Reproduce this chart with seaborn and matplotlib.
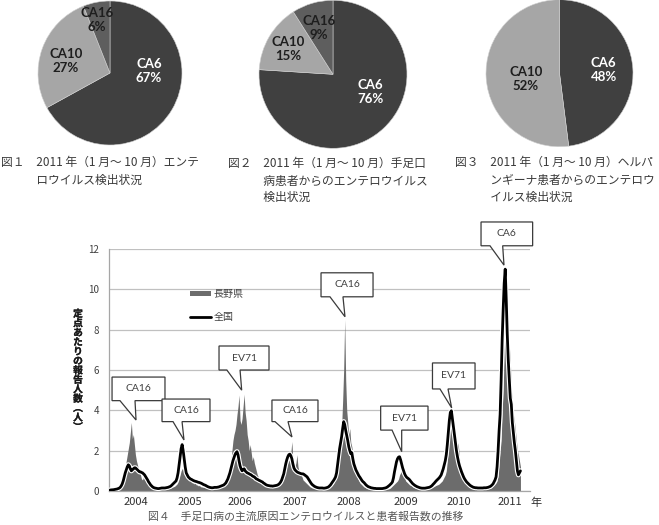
import numpy as np
import matplotlib
matplotlib.use("Agg")
import matplotlib.pyplot as plt
import matplotlib.patheffects as pe
from matplotlib.patches import Polygon, Patch
from matplotlib.lines import Line2D
import seaborn as sns

# ---- pie data (2011, Jan-Oct) ----
pie_labels = ["CA6", "CA10", "CA16"]
fig1_pct = [67, 27, 6]      # all enterovirus detections
fig2_pct = [76, 15, 9]      # hand-foot-mouth patients
fig3_labels = ["CA6", "CA10"]
fig3_pct = [48, 52]         # herpangina patients
pie_colors = ["#404040", "#a6a6a6", "#5e5e5e"]

# ---- weekly reports per sentinel, one list per season ----
years = ["2004", "2005", "2006", "2007", "2008", "2009", "2010", "2011"]

national_2004 = [0.05, 0.05, 0.06, 0.06, 0.07, 0.08, 0.09, 0.10, 0.12, 0.14,
                 0.18, 0.25, 0.35, 0.50, 0.70, 0.90, 1.05, 1.20, 1.30, 1.25,
                 1.10, 1.00, 1.05, 1.10, 1.15, 1.15, 1.10, 1.05, 1.00, 0.95,
                 0.95, 0.92, 0.90, 0.85, 0.80, 0.72, 0.65, 0.55, 0.45, 0.38,
                 0.30, 0.25, 0.20, 0.17, 0.15, 0.14, 0.13, 0.12, 0.12, 0.13, 0.14, 0.15]
national_2005 = [0.15, 0.15, 0.15, 0.16, 0.17, 0.18, 0.20, 0.22, 0.25, 0.30,
                 0.35, 0.40, 0.45, 0.50, 0.65, 0.90, 1.30, 1.70, 2.10, 2.30,
                 2.00, 1.60, 1.20, 0.90, 0.80, 0.70, 0.65, 0.60, 0.58, 0.55,
                 0.52, 0.50, 0.48, 0.47, 0.45, 0.43, 0.42, 0.40, 0.38, 0.35,
                 0.32, 0.30, 0.28, 0.25, 0.22, 0.20, 0.18, 0.17, 0.16, 0.16, 0.17, 0.18]
national_2006 = [0.18, 0.18, 0.19, 0.20, 0.22, 0.24, 0.26, 0.28, 0.30, 0.35,
                 0.40, 0.50, 0.60, 0.75, 0.90, 1.10, 1.30, 1.50, 1.65, 1.80, 1.90, 1.95,
                 1.80, 1.50, 1.25, 1.10, 1.00, 1.05, 1.10, 1.00, 0.95, 0.90,
                 0.88, 0.85, 0.82, 0.80, 0.75, 0.72, 0.70, 0.65, 0.60, 0.58,
                 0.55, 0.52, 0.50, 0.47, 0.45, 0.40, 0.37, 0.33, 0.30, 0.28]
national_2007 = [0.27, 0.26, 0.25, 0.25, 0.24, 0.25, 0.26, 0.27, 0.28, 0.30,
                 0.33, 0.38, 0.45, 0.55, 0.70, 0.85, 1.10, 1.35, 1.55, 1.70, 1.80,
                 1.83, 1.75, 1.60, 1.35, 1.15, 1.05, 1.00, 0.95, 0.92, 0.90, 0.88, 0.86, 0.85,
                 0.85, 0.82, 0.78, 0.74, 0.70, 0.62, 0.55, 0.45, 0.38, 0.32, 0.28,
                 0.24, 0.21, 0.19, 0.17, 0.16, 0.15, 0.15]
national_2008 = [0.15, 0.15, 0.14, 0.14, 0.15, 0.16, 0.18, 0.20, 0.25, 0.30, 0.38,
                 0.45, 0.52, 0.60, 0.70, 0.90, 1.30, 1.70, 2.10, 2.40, 2.70, 3.10,
                 3.44, 3.30, 3.00, 2.75, 2.50, 2.20, 2.00, 1.85, 1.90, 1.60,
                 1.35, 1.20, 1.05, 0.95, 0.85, 0.75, 0.68, 0.60, 0.52, 0.46,
                 0.42, 0.36, 0.30, 0.26, 0.22, 0.20, 0.18, 0.16, 0.15, 0.14]
national_2009 = [0.13, 0.13, 0.12, 0.12, 0.12, 0.12, 0.12, 0.12, 0.12, 0.13,
                 0.14, 0.15, 0.17, 0.20, 0.24, 0.28, 0.33, 0.38, 0.45, 0.65,
                 0.95, 1.20, 1.45, 1.60, 1.68, 1.70, 1.55, 1.35, 1.15, 1.00,
                 0.85, 0.75, 0.68, 0.64, 0.60, 0.55, 0.48, 0.42, 0.36, 0.32,
                 0.28, 0.25, 0.22, 0.20, 0.18, 0.16, 0.15, 0.14, 0.14, 0.14, 0.14, 0.15]
national_2010 = [0.16, 0.17, 0.18, 0.20, 0.23, 0.27, 0.33, 0.38, 0.44, 0.50,
                 0.55, 0.60, 0.65, 0.72, 0.80, 0.95, 1.10, 1.30, 1.50, 1.80,
                 2.30, 2.90, 3.50, 3.90, 3.98, 3.60, 3.20, 2.80, 2.40, 2.00,
                 1.70, 1.45, 1.25, 1.10, 0.95, 0.82, 0.70, 0.60, 0.52, 0.45,
                 0.40, 0.35, 0.30, 0.26, 0.23, 0.20, 0.18, 0.17, 0.16, 0.16, 0.15, 0.15]
national_2011 = [0.15, 0.15, 0.15, 0.15, 0.16, 0.16, 0.16, 0.17, 0.18, 0.20,
                 0.22, 0.25, 0.30, 0.35, 0.45, 0.55, 0.70, 1.20, 2.00, 3.00,
                 3.80, 5.50, 7.50, 9.00, 10.30, 11.00, 9.50, 7.80, 6.50, 5.50,
                 4.60, 4.30, 3.40, 2.90, 2.40, 2.00, 1.50, 1.00, 0.80, 0.90, 1.00]

nagano_2004 = [0.05, 0.05, 0.05, 0.05, 0.05, 0.06, 0.07, 0.08, 0.10, 0.12,
               0.20, 0.30, 0.45, 0.60, 0.90, 1.20, 1.50, 1.80, 2.10, 2.40,
               2.90, 3.40, 2.60, 2.80, 2.30, 1.80, 1.50, 1.30, 1.10, 1.00,
               0.80, 0.60, 0.55, 0.70, 0.60, 0.50, 0.45, 0.40, 0.40, 0.35,
               0.30, 0.30, 0.28, 0.25, 0.22, 0.20, 0.20, 0.18, 0.15, 0.15, 0.12, 0.12]
nagano_2005 = [0.10, 0.10, 0.10, 0.10, 0.10, 0.12, 0.12, 0.15, 0.15, 0.18,
               0.20, 0.22, 0.25, 0.30, 0.35, 0.45, 0.60, 0.80, 1.00, 1.10,
               1.20, 1.00, 0.90, 1.10, 0.80, 0.60, 0.50, 0.55, 0.45, 0.40,
               0.40, 0.35, 0.38, 0.30, 0.30, 0.25, 0.28, 0.22, 0.20, 0.20,
               0.18, 0.18, 0.15, 0.15, 0.15, 0.12, 0.12, 0.12, 0.12, 0.12, 0.13, 0.14]
nagano_2006 = [0.14, 0.15, 0.15, 0.16, 0.18, 0.20, 0.22, 0.25, 0.30, 0.35,
               0.40, 0.50, 0.65, 0.80, 1.10, 1.50, 2.00, 2.50, 2.80, 3.00,
               3.30, 3.80, 4.20, 4.76, 3.50, 3.30, 3.60, 4.20, 4.80, 3.90,
               3.50, 2.80, 2.50, 2.00, 2.30, 1.90, 1.50, 1.70, 1.40, 1.20,
               1.00, 0.80, 0.70, 0.60, 0.50, 0.45, 0.40, 0.35, 0.30, 0.30, 0.28, 0.25]
nagano_2007 = [0.25, 0.22, 0.22, 0.20, 0.20, 0.20, 0.20, 0.22, 0.22, 0.25,
               0.28, 0.30, 0.35, 0.40, 0.50, 0.60, 0.80, 1.00, 1.20, 1.40,
               1.50, 1.60, 1.90, 2.45, 1.50, 1.30, 1.20, 1.40, 1.80, 1.20,
               1.00, 0.90, 0.80, 0.70, 0.55, 0.50, 0.45, 0.40, 0.35, 0.30,
               0.25, 0.20, 0.18, 0.15, 0.15, 0.12, 0.12, 0.10, 0.10, 0.10, 0.10, 0.10]
nagano_2008 = [0.10, 0.10, 0.10, 0.10, 0.10, 0.12, 0.12, 0.15, 0.18, 0.20,
               0.25, 0.30, 0.35, 0.50, 0.70, 1.00, 1.30, 1.80, 2.30, 2.70,
               3.20, 4.50, 6.00, 8.50, 5.50, 4.00, 3.40, 2.80, 3.10, 2.40,
               2.20, 1.80, 1.50, 1.20, 1.00, 0.80, 0.60, 0.50, 0.40, 0.35,
               0.30, 0.25, 0.20, 0.18, 0.15, 0.12, 0.10, 0.10, 0.10, 0.10, 0.10, 0.10]
nagano_2009 = [0.08, 0.08, 0.08, 0.08, 0.08, 0.08, 0.08, 0.08, 0.08, 0.08,
               0.08, 0.08, 0.10, 0.10, 0.10, 0.12, 0.15, 0.20, 0.25, 0.30,
               0.35, 0.40, 0.45, 0.50, 0.60, 0.80, 0.90, 1.00, 0.95, 0.80,
               0.65, 0.50, 0.45, 0.40, 0.35, 0.30, 0.28, 0.25, 0.20, 0.18,
               0.15, 0.15, 0.12, 0.12, 0.10, 0.10, 0.10, 0.10, 0.10, 0.10, 0.12, 0.12]
nagano_2010 = [0.12, 0.12, 0.12, 0.15, 0.15, 0.18, 0.20, 0.22, 0.25, 0.28,
               0.30, 0.32, 0.35, 0.40, 0.45, 0.50, 0.60, 0.70, 0.80, 1.00,
               1.50, 2.20, 3.00, 3.50, 3.90, 3.00, 2.50, 2.00, 2.20, 2.30,
               2.40, 2.20, 1.60, 1.20, 1.00, 0.80, 0.60, 0.50, 0.40, 0.30,
               0.25, 0.20, 0.18, 0.15, 0.12, 0.12, 0.10, 0.10, 0.10, 0.10, 0.10, 0.10]
nagano_2011 = [0.10, 0.10, 0.10, 0.10, 0.10, 0.10, 0.10, 0.10, 0.12, 0.12,
               0.15, 0.15, 0.20, 0.25, 0.30, 0.35, 0.40, 0.50, 0.80, 1.50,
               2.00, 2.50, 4.00, 5.00, 7.00, 8.00, 8.50, 9.00, 7.50, 7.20,
               6.50, 5.00, 4.50, 3.80, 3.50, 3.00, 2.50, 2.00, 1.80, 1.50, 1.20]

national = (national_2004 + national_2005 + national_2006 + national_2007 +
            national_2008 + national_2009 + national_2010 + national_2011)
nagano = (nagano_2004 + nagano_2005 + nagano_2006 + nagano_2007 +
          nagano_2008 + nagano_2009 + nagano_2010 + nagano_2011)
assert len(national) == len(nagano) == 405, (len(national), len(nagano))
weeks = np.arange(len(national))

# where the year labels sit on the week axis
year_ticks = [25.6, 78.7, 127.9, 182.1, 235.2, 291.0, 343.2, 393.7]

# callouts: text, box x0, x1, top, bottom, tail base left/right, tip x, tip y
callouts = [
    ("CA16", 2.0, 54.1, 5.65, 4.48, 9.8, 24.6, 25.6, 3.52),
    ("CA16", 51.2, 98.4, 4.56, 3.44, 62.0, 70.9, 72.8, 2.53),
    ("EV71", 107.3, 156.5, 7.19, 6.0, 115.0, 128.0, 129.6, 5.0),
    ("CA16", 159.4, 204.7, 4.51, 3.44, 162.4, 175.2, 179.1, 2.68),
    ("CA16", 207.7, 258.9, 10.82, 9.63, 216.5, 229.3, 231.3, 8.64),
    ("EV71", 266.4, 313.0, 4.21, 3.02, 277.6, 287.1, 287.1, 1.95),
    ("EV71", 317.4, 359.3, 6.35, 5.06, 324.8, 332.7, 336.3, 4.12),
    ("CA6", 365.2, 416.0, 13.34, 12.16, 374.0, 386.5, 387.8, 11.2),
]

sns.set_theme(style="white")
plt.rcParams["font.family"] = ["Noto Sans CJK JP", "DejaVu Sans"]

W, H = 659, 525
fig = plt.figure(figsize=(W / 100, H / 100), dpi=100)


def px_axes(left, top, w, h):
    return fig.add_axes([left / W, 1 - (top + h) / H, w / W, h / H])


def px_text(x, y, s, **kw):
    return fig.text(x / W, 1 - y / H, s, **kw)


def draw_pie(box, values, labels, label_pos):
    ax = px_axes(*box)
    wedges, _ = ax.pie(values, colors=pie_colors[:len(values)], startangle=90,
                       counterclock=False,
                       wedgeprops=dict(edgecolor="#d0d0d0", linewidth=0.4))
    for w in wedges:
        w.set_clip_on(False)
    ax.set_xlim(-1, 1)
    ax.set_ylim(-1, 1)
    for lab, val, (x, y) in zip(labels, values, label_pos):
        col = "white" if lab == "CA6" else "#1e1e1e"
        ax.text(x, y, f"{lab}\n{val}%", ha="center", va="center", color=col,
                fontsize=9.5, fontweight="bold", family=["Lato", "DejaVu Sans"],
                linespacing=1.2)
    return ax


draw_pie((38, 1, 144, 144), fig1_pct, pie_labels,
         [(0.54, 0.03), (-0.61, 0.17), (-0.18, 0.73)])
draw_pie((259, 0.3, 148, 148), fig2_pct, pie_labels,
         [(0.51, -0.235), (-0.61, 0.34), (-0.19, 0.63)])
draw_pie((486, -0.3, 147, 147), fig3_pct, fig3_labels,
         [(0.6, 0.05), (-0.46, -0.075)])

cap_kw = dict(fontsize=8.5, color="#3a3a3a", va="center", ha="left")
px_text(1, 162, "図１　2011 年（1 月～ 10 月）エンテ", **cap_kw)
px_text(1, 180, "　　　ロウイルス検出状況", **cap_kw)
px_text(228, 163, "図２　2011 年（1 月～ 10 月）手足口", **cap_kw)
px_text(228, 181, "　　　病患者からのエンテロウイルス", **cap_kw)
px_text(228, 197, "　　　検出状況", **cap_kw)
px_text(455, 162, "図３　2011 年（1 月～ 10 月）ヘルパ", **cap_kw)
px_text(455, 180, "　　　ンギーナ患者からのエンテロウ", **cap_kw)
px_text(455, 197, "　　　イルス検出状況", **cap_kw)

# ---- time series ----
ax = px_axes(109, 249, 421, 242)
ax.fill_between(weeks, nagano, color="#6c6c6c", lw=0, zorder=2)
sns.lineplot(x=weeks, y=national, ax=ax, color="black", lw=2.0, zorder=3,
             path_effects=[pe.Stroke(linewidth=3.6, foreground="white"), pe.Normal()])

ax.set_xlim(-1, 413.4)
ax.set_ylim(0, 12)
ax.set_yticks(range(0, 13, 2))
ax.set_xticks(year_ticks)
ax.set_xticklabels(years)
ax.tick_params(axis="y", length=0, pad=7, labelsize=7, colors="#404040")
ax.tick_params(axis="x", length=0, pad=4, labelsize=8, colors="#303030")
ax.yaxis.grid(True, color="#c0c0c0", lw=0.9)
ax.xaxis.grid(False)
ax.set_axisbelow(True)
sns.despine(ax=ax)
for s in ("left", "bottom"):
    ax.spines[s].set_color("#a6a6a6")
    ax.spines[s].set_linewidth(0.9)
ax.set_xlabel("")
ax.set_ylabel("")

for text, x0, x1, yt, yb, bl, br, tx, ty in callouts:
    poly = Polygon([(x0, yt), (x1, yt), (x1, yb), (br, yb), (tx, ty), (bl, yb), (x0, yb)],
                   closed=True, facecolor="white", edgecolor="#3a3a3a", lw=0.9,
                   zorder=5, clip_on=False)
    ax.add_patch(poly)
    ax.text((x0 + x1) / 2, (yt + yb) / 2, text, ha="center", va="center",
            fontsize=7.5, color="#404040", family=["Lato", "DejaVu Sans"], zorder=6,
            clip_on=False)

handles = [Patch(facecolor="#6c6c6c", edgecolor="none", label="長野県"),
           Line2D([], [], color="black", lw=2, label="全国")]
ax.legend(handles=handles, loc="upper left", bbox_to_anchor=(0.192, 0.835),
          frameon=False, fontsize=7.2, handlelength=2.1, handleheight=0.5,
          handletextpad=0.25, labelspacing=1.3, borderpad=0, borderaxespad=0,
          labelcolor="#404040")

px_text(78, 370.5, "\n".join("定点あたりの報告人数︵人︶"), ha="center", va="center",
        fontsize=7, fontweight="bold", color="#1a1a1a", linespacing=0.93,
        path_effects=[pe.withStroke(linewidth=0.2, foreground="#1a1a1a")])
px_text(536, 503, "年", ha="center", va="center", fontsize=8, color="#303030")
px_text(148, 517, "図４　手足口病の主流原因エンテロウイルスと患者報告数の推移",
        ha="left", va="center", fontsize=7.8, color="#555555")

fig.savefig("out.png", dpi=100)
